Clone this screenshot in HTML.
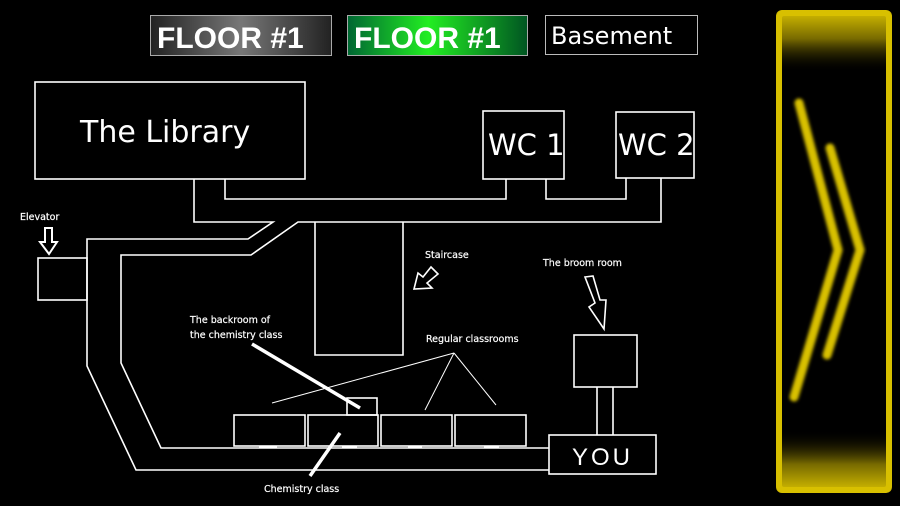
<!DOCTYPE html>
<html><head><meta charset="utf-8"><style>
html,body{margin:0;padding:0;background:#000;width:900px;height:506px;overflow:hidden}
svg{display:block}
text{font-family:"DejaVu Sans","Liberation Sans",sans-serif;fill:#fff}
</style></head><body>
<svg width="900" height="506" viewBox="0 0 900 506" xmlns="http://www.w3.org/2000/svg">
<defs>
<linearGradient id="g1" x1="0" y1="0" x2="1" y2="0"><stop offset="0" stop-color="#222"/><stop offset="0.5" stop-color="#777"/><stop offset="1" stop-color="#222"/></linearGradient>
<linearGradient id="g2" x1="0" y1="0" x2="1" y2="0"><stop offset="0" stop-color="#063"/><stop offset="0.45" stop-color="#2e2"/><stop offset="1" stop-color="#052"/></linearGradient>
<linearGradient id="yt" x1="0" y1="0" x2="0" y2="1"><stop offset="0" stop-color="#d8c000"/><stop offset="0.06" stop-color="#d8c000" stop-opacity="0.55"/><stop offset="0.13" stop-color="#000" stop-opacity="0"/><stop offset="0.87" stop-color="#000" stop-opacity="0"/><stop offset="0.94" stop-color="#d8c000" stop-opacity="0.55"/><stop offset="1" stop-color="#d8c000"/></linearGradient>
<filter id="bl"><feGaussianBlur stdDeviation="1.5"/></filter>
</defs>

<rect x="150.5" y="15.5" width="181" height="40" fill="url(#g1)" stroke="#aaa"/>
<text x="157" y="48" font-size="30" font-weight="bold" style="font-family:'Liberation Sans',sans-serif">FLOOR #1</text>
<rect x="347.5" y="15.5" width="180" height="40" fill="url(#g2)" stroke="#aaa"/>
<text x="354" y="48" font-size="30" font-weight="bold" style="font-family:'Liberation Sans',sans-serif">FLOOR #1</text>
<rect x="545.5" y="15.5" width="152" height="39" fill="#000" stroke="#bbb"/>
<text x="551" y="44" font-size="24">Basement</text>

<g fill="none" stroke="#fff" stroke-width="1.6">
<rect x="35" y="82" width="270" height="97"/>
<rect x="483" y="111" width="81" height="68"/>
<rect x="616" y="112" width="78" height="66"/>
<polyline points="194,179 194,222 273,222 248,239 87,239 87,366 136,470 549,470"/>
<polyline points="225,179 225,199 506,199 506,179"/>
<polyline points="546,179 546,199 626,199 626,178"/>
<polyline points="661,178 661,222 298,222 251,255 121,255 121,363 161,448 549,448"/>
<polyline points="315,222 315,355 403,355 403,222"/>
<rect x="38" y="258" width="49" height="42"/>
<rect x="234" y="415" width="71" height="31"/>
<rect x="308" y="415" width="70" height="31"/>
<rect x="381" y="415" width="71" height="31"/>
<rect x="455" y="415" width="71" height="31"/>
<rect x="347" y="398" width="30" height="17"/>
<rect x="549" y="435" width="107" height="39"/>
<rect x="574" y="335" width="63" height="52"/>
<polyline points="597,387 597,435"/><polyline points="613,387 613,435"/>
<polygon points="45,228 52,228 52,242 57,242 49,254 40,242 45,242" stroke-width="2"/>
<polygon points="431,267 438,274 427,283 432,288 414,289 418,273 423,277"/>
<polygon points="585,277 593,276 600,300 606,300 604,329 589,307 595,303"/>
</g>
<g stroke="#fff" fill="none">
<line x1="272" y1="403" x2="454" y2="353" stroke-width="1"/>
<line x1="454" y1="353" x2="425" y2="410" stroke-width="1"/>
<line x1="454" y1="353" x2="496" y2="405" stroke-width="1"/>
<line x1="252" y1="344" x2="360" y2="408" stroke-width="3.5"/>
<line x1="340" y1="433" x2="310" y2="476" stroke-width="3.5"/>
<line x1="259" y1="447" x2="277" y2="447" stroke-width="3"/>
<line x1="342" y1="447" x2="357" y2="447" stroke-width="3"/>
<line x1="408" y1="447" x2="422" y2="447" stroke-width="3"/>
<line x1="484" y1="447" x2="499" y2="447" stroke-width="3"/>
</g>
<text x="80" y="142" font-size="30">The Library</text>
<text x="488" y="155" font-size="29">WC 1</text>
<text x="618" y="155" font-size="29">WC 2</text>
<g font-size="9.5" stroke="#fff" stroke-width="0.2">
<text x="20" y="220">Elevator</text>
<text x="425" y="258">Staircase</text>
<text x="543" y="266">The broom room</text>
<text x="426" y="342">Regular classrooms</text>
<text x="190" y="323">The backroom of</text>
<text x="190" y="338">the chemistry class</text>
<text x="264" y="492">Chemistry class</text>
</g>
<text x="572" y="465" font-size="24" style="font-family:'Liberation Sans',sans-serif" letter-spacing="3">YOU</text>

<rect x="776" y="10" width="116" height="483" rx="6" fill="#000"/>
<rect x="776" y="10" width="116" height="483" rx="6" fill="url(#yt)"/>
<rect x="779" y="13" width="110" height="477" rx="5" fill="none" stroke="#d8c000" stroke-width="6"/>
<g stroke="#d8c000" stroke-width="9" stroke-linecap="round" fill="none" filter="url(#bl)">
<polyline points="799,103 838,250 794,397"/>
<polyline points="830,148 860,250 827,355"/>
</g>
</svg>
</body></html>
